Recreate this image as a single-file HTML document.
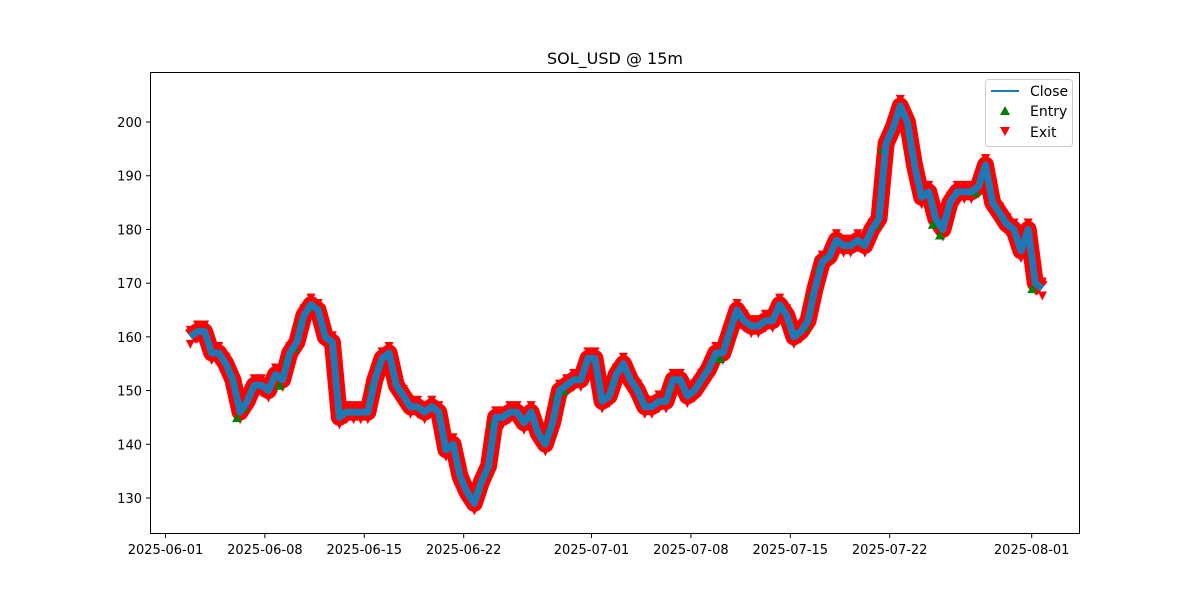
<!DOCTYPE html>
<html><head><meta charset="utf-8"><style>
body{margin:0;background:#fff;font-family:"Liberation Sans","DejaVu Sans",sans-serif}
svg text{font-family:"DejaVu Sans","Liberation Sans",sans-serif}
</style></head><body>
<svg id="chart" width="1200" height="600">
<rect width="1200" height="600" fill="#fff"/>
<text x="615" y="64" font-size="16" text-anchor="middle">SOL_USD @ 15m</text>
<g id="plot"></g>
<rect x="150.5" y="72.5" width="929" height="461" fill="none" stroke="#000" stroke-width="1"/>
<g id="axes"></g>
<g>
<rect x="985.5" y="79.5" width="87" height="67" rx="3" fill="#fff" stroke="#ccc"/>
<line x1="991" y1="91" x2="1019" y2="91" stroke="#1f77b4" stroke-width="2"/>
<text x="1030" y="96" font-size="14">Close</text>
<polygon points="1005,106 1010,115 1000,115" fill="green"/>
<text x="1030" y="116" font-size="14">Entry</text>
<polygon points="1000,127 1010,127 1005,136" fill="red"/>
<text x="1030" y="137" font-size="14">Exit</text>
</g>
</svg>
<script>
const startDay = 1.75;
const stepDay = 0.5;
const closes = [160,161,161,157,157,155,152,146,148,151,151,150,153,152,157,159,164,166,165,160,159,145,146,146,146,146,152,156,157,151,149,147,147,146,147,146,139,140,134,131,129,133,136,145,145,146,146,144,146,142,140,144,150,151,152,152,156,156,148,149,153,155,152,150,147,147,148,148,152,152,149,150,152,154,157,157,161,165,163,162,162,163,163,166,164,160,161,163,169,174,175,178,177,177,178,177,180,182,196,199,203,200,192,186,187,182,180,185,187,187,187,188,192,185,183,181,180,176,180,170,169];
const entryIdx = [7,8,13,14,15,16,26,27,41,42,43,51,52,53,60,68,75,76,77,87,88,89,97,98,105,106,111,119];
const yTicks = [130,140,150,160,170,180,190,200];
const xTickLabels = ["2025-06-01","2025-06-08","2025-06-15","2025-06-22","2025-07-01","2025-07-08","2025-07-15","2025-07-22","2025-08-01"];
const xTickDays = [0,7,14,21,30,37,44,51,61];

const NS="http://www.w3.org/2000/svg";
const xs = d => 165.5 + d*14.2;
const ys = v => 498 - (v-130)*5.371;
const plot=document.getElementById('plot'), axes=document.getElementById('axes');
function mk(tag, attrs, parent){const e=document.createElementNS(NS,tag);for(const k in attrs)e.setAttribute(k,attrs[k]);parent.appendChild(e);return e;}

const pts = closes.map((v,i)=>[xs(startDay+i*stepDay), ys(v)]);
const ptStr = pts.map(p=>p[0].toFixed(1)+','+p[1].toFixed(1)).join(' ');
const band = mk('polyline',{points:ptStr,fill:'none',stroke:'red','stroke-width':17,'stroke-linejoin':'round'},plot);


pts.forEach((p,i)=>{
  const t=mk('polygon',{points:`${p[0]-4.5},${p[1]+3} ${p[0]+4.5},${p[1]+3} ${p[0]},${p[1]+12}`,fill:'red'},plot);
  
  
  const u=mk('polygon',{points:`${p[0]-4.5},${p[1]-11} ${p[0]+4.5},${p[1]-11} ${p[0]},${p[1]-2}`,fill:'red'},plot);
  
  
});
entryIdx.forEach(i=>{
  const p=pts[i];
  const t=mk('polygon',{points:`${p[0]-3},${p[1]+1} ${p[0]+2},${p[1]+10} ${p[0]-8},${p[1]+10}`,fill:'green'},plot);
  
  
});
const line = mk('polyline',{points:ptStr,fill:'none',stroke:'#1f77b4','stroke-width':7,'stroke-linejoin':'round'},plot);



yTicks.forEach(v=>{
  const y=ys(v);
  const l=mk('line',{x1:146,x2:150,y1:y,y2:y,stroke:'#000'},axes);
  
  
  const t=mk('text',{x:142,y:y+5,'font-size':13,'text-anchor':'end'},axes);
  t.textContent=v;
  
  
});
xTickDays.forEach((d,i)=>{
  const x=xs(d);
  const l=mk('line',{x1:x,x2:x,y1:534,y2:538,stroke:'#000'},axes);
  
  
  const t=mk('text',{x:x,y:554,'font-size':13,'text-anchor':'middle'},axes);
  t.textContent=xTickLabels[i];
  
  
});
</script>
</body></html>
